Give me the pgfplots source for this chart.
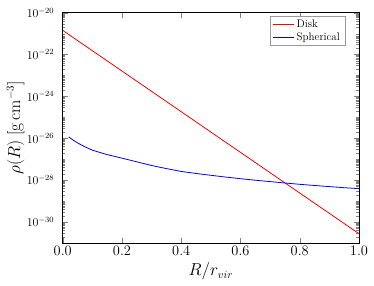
\documentclass[border=0pt]{standalone}
\usepackage{pgfplots}
\pgfplotsset{compat=1.18}
\definecolor{mblue}{rgb}{0,0,1}
\definecolor{mred}{rgb}{1,0,0}
\def\myminor{1e-20}
\foreach \ee in {21,...,31}{\foreach \mm in {1,...,9}{\xdef\myminor{\myminor,\mm e-\ee}}}
\begin{document}
\begin{tikzpicture}
\begin{axis}[
  scale only axis, width=296pt, height=230pt,
  ymode=log, xmin=0, xmax=1, ymin=1e-31, ymax=1e-20,
  ytick={1e-30,1e-28,1e-26,1e-24,1e-22,1e-20},
  minor ytick/.expand once=\myminor,
  xtick={0,0.2,0.4,0.6,0.8,1},
  tick pos=both, tick align=inside,
  major tick length=5pt, minor tick length=2.5pt,
  axis line style={line width=0.8pt},
  yticklabel style={font=\large, xshift=-5pt},
  xticklabel style={font=\Large, /pgf/number format/.cd, fixed, fixed zerofill, precision=1},
  label style={font=\fontsize{16}{19}\selectfont},
  xlabel={$R/r_{vir}$},
  ylabel={$\rho(R)\;[\mathrm{g\,cm^{-3}}]$},
  ylabel style={at={([xshift=-47pt]axis description cs:0,0.5)}, anchor=center},
  legend cell align=left,
  legend image code/.code={\draw[#1] (0pt,0pt) -- (15pt,0pt); \path (0pt,0pt) -- (21pt,0pt);},
  legend style={at={(0.953,0.986)}, anchor=north east, draw=black!40, font=\fontsize{11}{13}\selectfont, row sep=-1pt},
]
\addplot[color=mred, line width=0.8pt] coordinates {(0,1.43e-21) (1,2.75e-31)};
\addlegendentry{Disk}
\addplot[color=mblue, line width=0.8pt] coordinates {
(0.02,1.17e-26) (0.035,8.2e-27) (0.05,6.0e-27) (0.075,3.9e-27) (0.1,2.7e-27) (0.125,2.1e-27) (0.15,1.66e-27) (0.175,1.36e-27) (0.2,1.12e-27)
(0.25,7.5e-28) (0.3,5.0e-28) (0.35,3.55e-28) (0.4,2.6e-28) (0.45,2.08e-28) (0.5,1.7e-28) (0.55,1.4e-28) (0.6,1.17e-28) (0.65,9.9e-29) (0.7,8.5e-29)
(0.75,7.3e-29) (0.8,6.3e-29) (0.85,5.55e-29) (0.9,4.9e-29) (0.95,4.35e-29) (1.0,3.9e-29)};
\addlegendentry{Spherical}
\end{axis}
\pgfresetboundingbox
\path[use as bounding box] (current axis.south west) ++(-62.7pt,-42.3pt) rectangle ([shift={(15pt,12.7pt)}]current axis.north east);
\end{tikzpicture}
\end{document}
